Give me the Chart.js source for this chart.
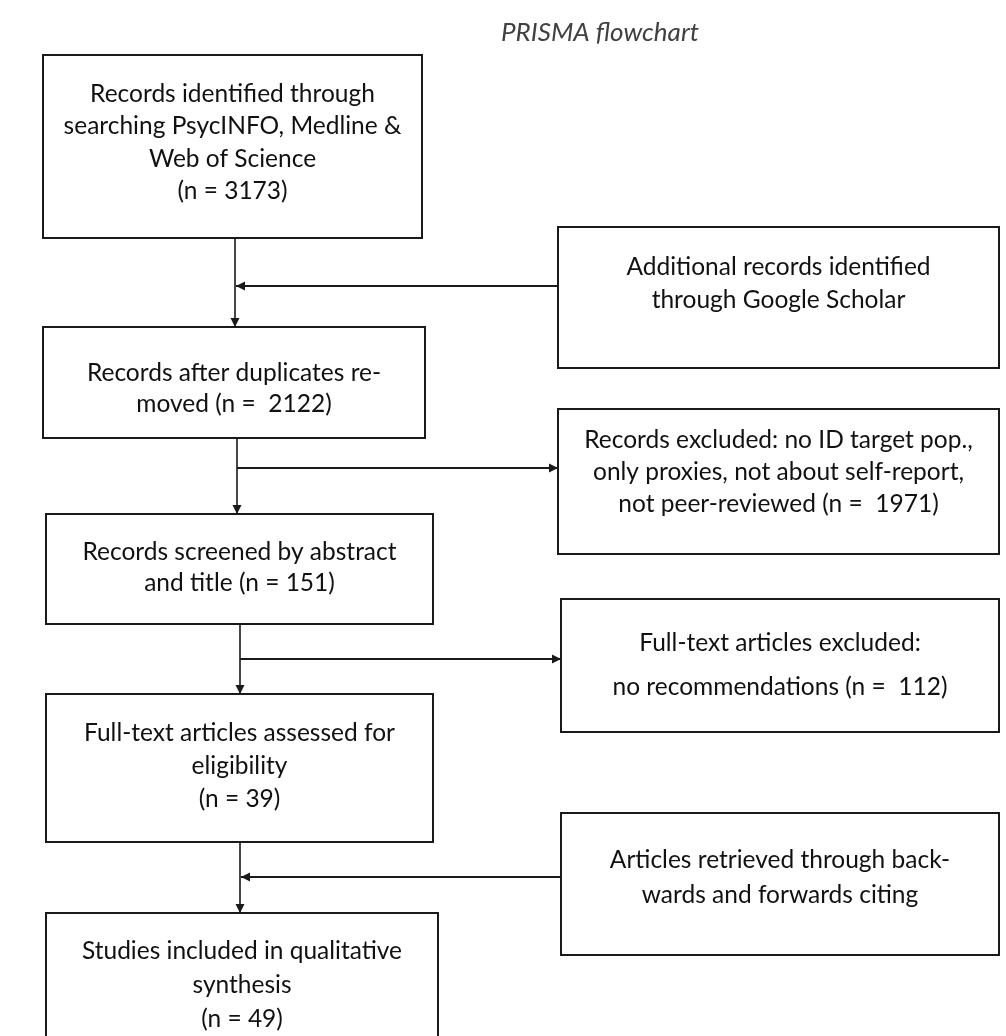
<!DOCTYPE html>
<html>
<head>
<meta charset="utf-8">
<title>PRISMA flowchart</title>
<script src="https://cdn.jsdelivr.net/npm/chart.js@4"></script>
<style>
  html, body { margin: 0; padding: 0; background: #fff; }
  #wrap { width: 1006px; height: 1036px; }
</style>
</head>
<body>
<div id="wrap"><canvas id="myChart" width="1006" height="1036"></canvas></div>
<script>
// flow text and counts
const chartTitle = 'PRISMA flowchart';

const mainSteps = [
    ['Records identified through', 'searching PsycINFO, Medline &', 'Web of Science', '(n = {n})'],
    ['Records after duplicates re-', 'moved (n =  {n})'],
    ['Records screened by abstract', 'and title (n = {n})'],
    ['Full-text articles assessed for', 'eligibility', '(n = {n})'],
    ['Studies included in qualitative', 'synthesis', '(n = {n})']
];
const mainCounts = [3173, 2122, 151, 39, 49];

const sideSteps = [
    ['Additional records identified', 'through Google Scholar'],
    ['Records excluded: no ID target pop.,', 'only proxies, not about self-report,', 'not peer-reviewed (n =  {n})'],
    ['Full-text articles excluded:', 'no recommendations (n =  {n})'],
    ['Articles retrieved through back-', 'wards and forwards citing']
];
const sideCounts = [null, 1971, 112, null];

// 'in' = side box feeds into the main flow, 'out' = records leave the flow
const sideDirection = ['in', 'out', 'out', 'in'];

// layout (page units, same as the pixel grid of the page)
const mainLayout = [
    { l: 43, t: 55,  r: 422, b: 238,  y0: 94,  dy: 32.5, x: 235 },
    { l: 43, t: 327, r: 425, b: 438,  y0: 373, dy: 31,   x: 237 },
    { l: 46, t: 514, r: 433, b: 624,  y0: 552, dy: 31,   x: 240 },
    { l: 46, t: 694, r: 433, b: 842,  y0: 733, dy: 33,   x: 240 },
    { l: 46, t: 913, r: 438, b: 1080, y0: 951, dy: 34,   x: 240 }
];
const sideLayout = [
    { l: 558, t: 227, r: 999, b: 368, y0: 267, dy: 33, arrowY: 286 },
    { l: 558, t: 409, r: 999, b: 554, y0: 440, dy: 32, arrowY: 468 },
    { l: 561, t: 599, r: 999, b: 732, y0: 643, dy: 44, arrowY: 659 },
    { l: 561, t: 813, r: 999, b: 955, y0: 860, dy: 35, arrowY: 877 }
];

const FONT = 'Lato, "Open Sans", sans-serif';

function fillCount(line, n) {
    return n === null ? line : line.replace('{n}', n);
}

function arrow(ctx, x1, y1, x2, y2, w) {
    ctx.beginPath();
    ctx.moveTo(x1, y1);
    ctx.lineTo(x2, y2);
    ctx.lineWidth = w;
    ctx.stroke();
    const a = Math.atan2(y2 - y1, x2 - x1);
    const len = 9, half = 4.5;
    ctx.beginPath();
    ctx.moveTo(x2, y2);
    ctx.lineTo(x2 - len * Math.cos(a) + half * Math.sin(a), y2 - len * Math.sin(a) - half * Math.cos(a));
    ctx.lineTo(x2 - len * Math.cos(a) - half * Math.sin(a), y2 - len * Math.sin(a) + half * Math.cos(a));
    ctx.closePath();
    ctx.fill();
}

const flowPlugin = {
    id: 'flow',
    afterDraw(chart) {
        const ctx = chart.ctx;
        const sx = chart.scales.x, sy = chart.scales.y;
        const X = v => sx.getPixelForValue(v);
        const Y = v => sy.getPixelForValue(v);

        ctx.save();
        ctx.strokeStyle = '#1a1a1a';
        ctx.fillStyle = '#1a1a1a';
        ctx.textAlign = 'center';
        ctx.textBaseline = 'middle';

        // title
        ctx.fillStyle = '#404040';
        ctx.font = 'italic 26px ' + FONT;
        ctx.fillText(chartTitle, X(600), Y(33));

        function box(lay, lines, n) {
            ctx.strokeStyle = '#1a1a1a';
            ctx.lineWidth = 2;
            ctx.strokeRect(X(lay.l), Y(lay.t), X(lay.r) - X(lay.l), Y(lay.b) - Y(lay.t));
            ctx.fillStyle = '#111';
            ctx.font = '24.5px ' + FONT;
            const cx = (X(lay.l) + X(lay.r)) / 2;
            lines.forEach((ln, i) => {
                ctx.fillText(fillCount(ln, n), cx, Y(lay.y0 + i * lay.dy));
            });
        }

        mainSteps.forEach((lines, i) => box(mainLayout[i], lines, mainCounts[i]));
        sideSteps.forEach((lines, i) => box(sideLayout[i], lines, sideCounts[i]));

        // vertical connectors between main boxes
        ctx.strokeStyle = '#1a1a1a';
        ctx.fillStyle = '#1a1a1a';
        for (let i = 0; i < mainLayout.length - 1; i++) {
            const a = mainLayout[i], b = mainLayout[i + 1];
            arrow(ctx, X(a.x), Y(a.b), X(a.x), Y(b.t), 1.6);
        }

        // horizontal connectors to / from side boxes
        sideLayout.forEach((s, i) => {
            const mx = mainLayout[i].x;
            if (sideDirection[i] === 'in') {
                arrow(ctx, X(s.l), Y(s.arrowY), X(mx + 1), Y(s.arrowY), 2.2);
            } else {
                arrow(ctx, X(mx), Y(s.arrowY), X(s.l), Y(s.arrowY), 2.2);
            }
        });
        ctx.restore();
    }
};

const ctx = document.getElementById('myChart').getContext('2d');
const myChart = new Chart(ctx, {
    type: 'scatter',
    data: { datasets: [{ data: [], pointRadius: 0 }] },
    options: {
        responsive: false,
        animation: false,
        layout: { padding: 0 },
        scales: {
            x: { type: 'linear', min: 0, max: 1006, display: false },
            y: { type: 'linear', min: 0, max: 1036, reverse: true, display: false }
        },
        plugins: {
            legend: { display: false },
            tooltip: { enabled: false }
        }
    },
    plugins: [flowPlugin]
});
</script>
</body>
</html>
